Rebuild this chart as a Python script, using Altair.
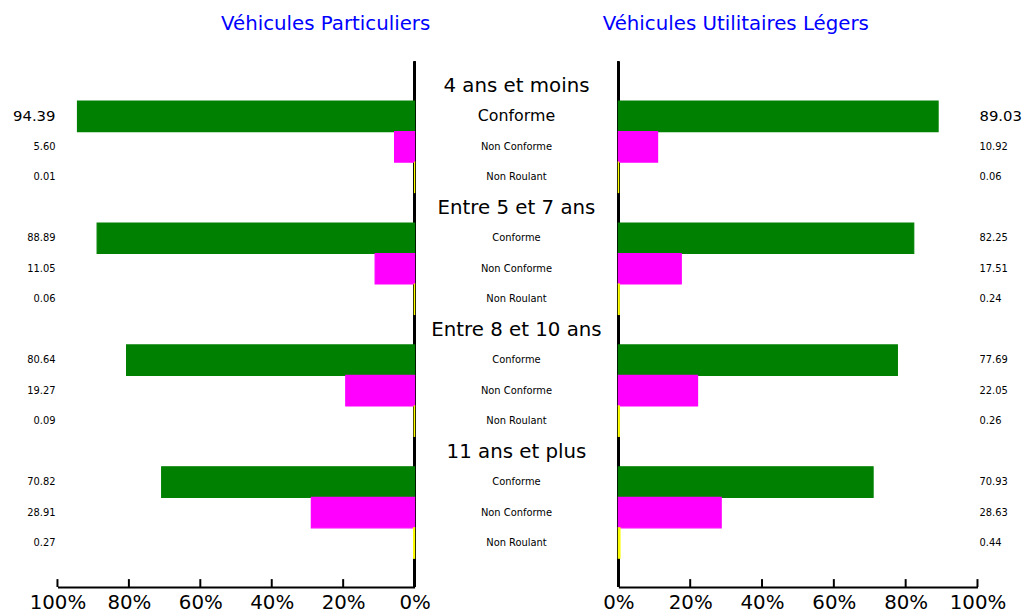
import altair as alt
import pandas as pd

# ---- data ----
groups = ["4 ans et moins", "Entre 5 et 7 ans", "Entre 8 et 10 ans", "11 ans et plus"]
statuses = ["Conforme", "Non Conforme", "Non Roulant"]
vp_values = [94.39, 5.60, 0.01,
             88.89, 11.05, 0.06,
             80.64, 19.27, 0.09,
             70.82, 28.91, 0.27]
vul_values = [89.03, 10.92, 0.06,
              82.25, 17.51, 0.24,
              77.69, 22.05, 0.26,
              70.93, 28.63, 0.44]
tick_values = [0, 20, 40, 60, 80, 100]
status_colors = ["#008000", "#FF00FF", "#FFFF00"]
title_left = "Véhicules Particuliers"
title_right = "Véhicules Utilitaires Légers"

# ---- table built from the arrays ----
rows = []
for gi, g in enumerate(groups):
    rows.append({"row": gi * 4, "kind": "header", "label": g})
    for si, s in enumerate(statuses):
        rows.append({"row": gi * 4 + 1 + si, "kind": "status", "label": s,
                     "status": s, "vp": vp_values[gi * 3 + si],
                     "vul": vul_values[gi * 3 + si]})
df = pd.DataFrame(rows)
ticks_df = pd.DataFrame({"t": tick_values})

H = 531
FONT = "DejaVu Sans"
yscale = alt.Scale(type="band", domain=list(range(16)), paddingInner=0,
                   paddingOuter=0.618, align=0.237)
Y = alt.Y("row:O", scale=yscale, axis=None)
color_scale = alt.Scale(domain=statuses, range=status_colors)
first_row = "datum.row == 1"

status_base = alt.Chart(df).transform_filter("datum.kind == 'status'")


def bar_panel(field, reverse, width, title, anchor):
    xs = alt.Scale(domain=[0, 100], reverse=reverse, nice=False)
    ax = alt.Axis(values=tick_values, labelExpr="datum.value + '%'", ticks=False,
                  domain=True, domainColor="black", domainWidth=2, grid=False,
                  title=None, labelFont=FONT, labelFontSize=20, labelColor="black",
                  labelPadding=6, labelFlush=False, labelOverlap=False)
    zero_line = alt.Chart(df).mark_rule(color="black", strokeWidth=2).encode(
        x=alt.XDatum(0, type="quantitative", scale=xs, axis=ax))
    bars = status_base.mark_bar(strokeWidth=1.2).encode(
        y=Y,
        x=alt.X(f"{field}:Q", scale=xs, axis=ax),
        color=alt.Color("status:N", scale=color_scale, legend=None),
        stroke=alt.Stroke("status:N", scale=color_scale, legend=None),
    )
    tick_marks = alt.Chart(ticks_df).mark_rule(color="black", strokeWidth=2).encode(
        x=alt.X("t:Q", scale=xs, axis=ax),
        y=alt.value(H - 8), y2=alt.value(H))
    return alt.layer(zero_line, bars, tick_marks).properties(
        width=width, height=H,
        title=alt.TitleParams(title, anchor=anchor, color="#0000FF", font=FONT,
                              fontSize=20, fontWeight="normal",
                              baseline="alphabetic", offset=11))


left_labels = status_base.mark_text(align="right", baseline="middle", font=FONT,
                                    color="black").encode(
    y=Y, x=alt.value(40),
    text=alt.Text("vp:Q", format=".2f"),
    size=alt.condition(first_row, alt.value(15), alt.value(10)),
).properties(width=42, height=H)

right_labels = status_base.mark_text(align="left", baseline="middle", font=FONT,
                                     color="black").encode(
    y=Y, x=alt.value(2),
    text=alt.Text("vul:Q", format=".2f"),
    size=alt.condition(first_row, alt.value(15), alt.value(10)),
).properties(width=30, height=H)

headers = alt.Chart(df).transform_filter("datum.kind == 'header'").mark_text(
    align="center", baseline="middle", font=FONT, fontSize=20, color="black").encode(
    y=Y, x=alt.value(103), text="label:N")
status_text = status_base.mark_text(align="center", baseline="middle", font=FONT,
                                    color="black").encode(
    y=Y, x=alt.value(103), text="label:N",
    size=alt.condition(first_row, alt.value(16), alt.value(10)))
middle = alt.layer(headers, status_text).properties(width=206, height=H)

left_bars = bar_panel("vp", True, 361, title_left, "end")
right_bars = bar_panel("vul", False, 363, title_right, "start")

chart = alt.hconcat(left_labels, left_bars, middle, right_bars, right_labels,
                    spacing=0, bounds="flush").properties(
    padding={"left": 5, "top": 3, "right": 0, "bottom": 0}
).configure_view(stroke=None)

chart.save("out.html", embed_options={"renderer": "svg", "actions": False})
